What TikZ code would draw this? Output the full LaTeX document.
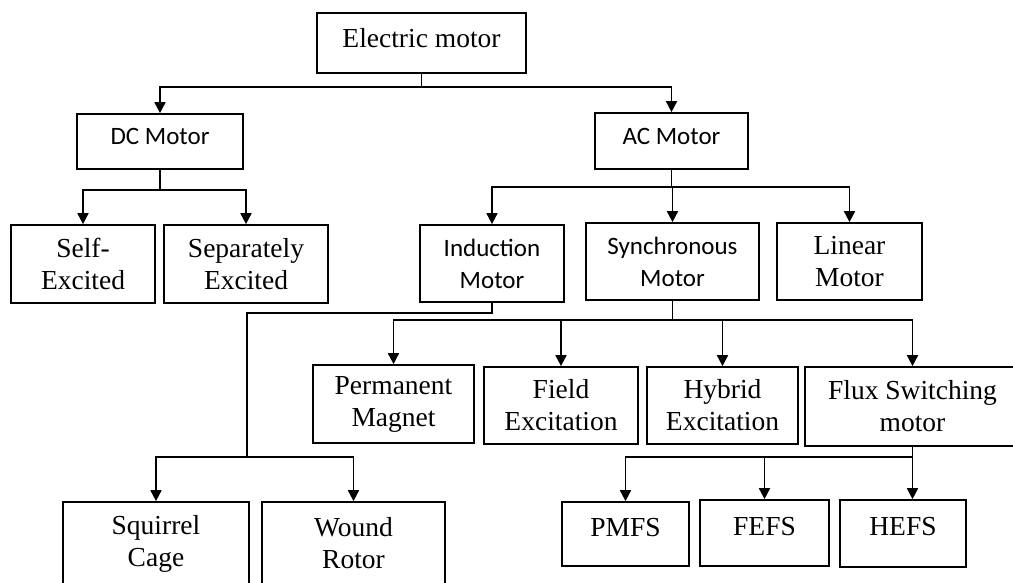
\documentclass[tikz,border=0pt]{standalone}
\usepackage{fontspec}
\setmainfont{Liberation Serif}
\newfontfamily\calfont{Carlito}
\usetikzlibrary{arrows.meta}
\tikzset{
  box/.style={draw, line width=1.7pt, align=center, inner sep=0pt},
  rm/.style={font=\fontsize{27.5}{32}\selectfont},
  sf/.style={font=\calfont\fontsize{25}{32}\selectfont},
  up/.style={text height=20pt, text depth=#1},
  ln/.style={line width=1.7pt},
  arr/.style={ln, -{Triangle[width=11pt,length=11pt]}}
}
\begin{document}
\begin{tikzpicture}[x=1pt, y=-1pt]
            \useasboundingbox (0,0) rectangle (1013,582);
            \clip (0,0) rectangle (1013,582);

            % Root node
            \node[box, rm, up=11pt, minimum width=209pt, minimum height=60pt] (em) at (421.5,43) {Electric motor};

            % Second stage nodes
            \node[box, sf, up=14pt, minimum width=166pt, minimum height=55pt] (dc) at (160,141.5) {DC Motor};
            \node[box, sf, up=14pt, minimum width=153pt, minimum height=56pt] (ac) at (671.5,141) {AC Motor};

            % Edges
            \draw[ln] (em.south) -- ++(0,13) coordinate (emb);
            \draw[arr] (emb) -| (dc.north);
            \draw[arr] (emb) -| (ac.north);

            % Third stage nodes
            \node[box, rm, minimum width=144pt, minimum height=78pt] (self) at (83,264) {Self-\\Excited};
            \node[box, rm, minimum width=164pt, minimum height=78pt] (sep) at (246,264) {Separately\\Excited};
            \node[box, sf, minimum width=144pt, minimum height=77pt] (ind) at (492,263.5) {Induction\\Motor};
            \node[box, sf, minimum width=173pt, minimum height=77pt] (syn) at (672.5,261.5) {Synchronous\\Motor};
            \node[box, rm, minimum width=145pt, minimum height=77pt] (lin) at (849.5,261.5) {Linear\\Motor};

            % Edges
            \draw[ln] (dc.south) -- ++(0,20) coordinate (dcb);
            \draw[arr] (dcb) -| (self.north);
            \draw[arr] (dcb) -| (sep.north);
            \draw[ln] (ac.south) -- ++(0,17) coordinate (acb);
            \draw[arr] (acb) -| (ind.north);
            \draw[arr] (acb) -| (syn.north);
            \draw[arr] (acb) -| (lin.north);

            % Fourth stage nodes
            \node[box, rm, minimum width=161pt, minimum height=78pt] (pm) at (393.5,404) {Permanent\\Magnet};
            \node[box, rm, minimum width=154pt, minimum height=77pt] (fe) at (561,405.5) {Field\\Excitation};
            \node[box, rm, minimum width=151pt, minimum height=77pt] (hy) at (722.5,405.5) {Hybrid\\Excitation};
            \node[box, rm, minimum width=215pt, minimum height=79pt] (fs) at (912.5,406.5) {Flux Switching\\motor};

            % Edges
            \draw[ln] (syn.south) -- ++(0,19) coordinate (synb);
            \draw[arr] (synb) -| (pm.north);
            \draw[arr] (synb) -| (fe.north);
            \draw[arr] (synb) -| (hy.north);
            \draw[arr] (synb) -| (fs.north);

            % Bottom nodes
            \node[box, rm, minimum width=186pt, minimum height=83pt] (sc) at (156,543.5) {Squirrel\\Cage};
            \node[box, rm, minimum width=183pt, minimum height=83pt] (wr) at (353.5,543.5) {Wound\\Rotor};
            \node[box, rm, up=16pt, minimum width=127pt, minimum height=64pt] (pmfs) at (625.5,534) {PMFS};
            \node[box, rm, up=16pt, minimum width=129pt, minimum height=66pt] (fefs) at (764.5,533) {FEFS};
            \node[box, rm, up=16pt, minimum width=126pt, minimum height=67pt] (hefs) at (903,533.5) {HEFS};

            % Edges
            \coordinate (indb) at (247,457);
            \draw[ln] (ind.south) -- ++(0,10) -| (indb);
            \draw[arr] (indb) -| (sc.north);
            \draw[arr] (indb) -| (wr.north);
            \draw[ln] (fs.south) -- ++(0,10) coordinate (fsb);
            \draw[arr] (fsb) -| (pmfs.north);
            \draw[arr] (fsb) -| (fefs.north);
            \draw[arr] (fsb) -- (fsb |- hefs.north);

        \end{tikzpicture}
\end{document}
